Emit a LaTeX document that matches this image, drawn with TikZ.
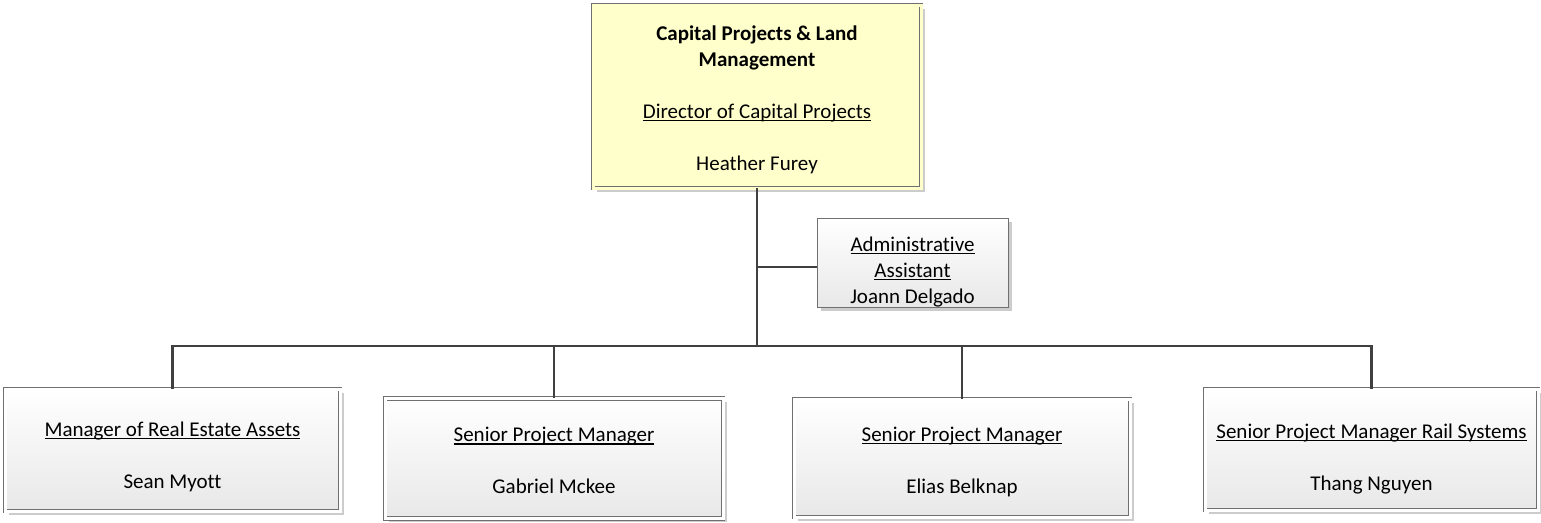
\documentclass[tikz,border=0pt]{standalone}
\usepackage{fontspec}
\setmainfont{Carlito}[Ligatures=CommonOff]
\usetikzlibrary{shadows}
\definecolor{lineclr}{HTML}{404040}
\definecolor{boxborder}{HTML}{707070}
\definecolor{topfill}{HTML}{FFFFCC}
\newcommand\myul[1]{\leavevmode\setbox0\hbox{#1}\rlap{\rule[-2.6pt]{\wd0}{1.1pt}}\box0}
\newcommand\tp[1]{\rule{0pt}{#1pt}}
\tikzset{
  conn/.style={draw=lineclr, line width=2.6pt},
  shad/.style={drop shadow={shadow xshift=3.5pt, shadow yshift=-3.5pt, fill=black, opacity=0.2}},
  dblbox/.style={shad, draw=boxborder, line width=0.8pt, double distance=3pt, align=center, inner sep=0pt,
     font=\fontsize{21}{26}\selectfont},
  topbox/.style={dblbox, fill=topfill, double=topfill},
  empbox/.style={dblbox, top color=white, bottom color=black!9, double=white},
  adminbox/.style={shad, draw=boxborder, line width=0.8pt, top color=white, bottom color=black!9,
     align=center, inner sep=0pt, font=\fontsize{21}{26}\selectfont},
}
\begin{document}
\begin{tikzpicture}[x=1pt, y=-1pt]
\useasboundingbox (0,0) rectangle (1541,522);
\node[topbox, minimum width=328pt, minimum height=183pt] (top) at (757,96.5) {\tp{21}\textbf{Capital Projects \& Land}\\\textbf{Management}\\[26pt]\myul{Director of Capital Projects}\\[26pt]Heather Furey};
\node[adminbox, minimum width=191pt, minimum height=89pt] (admin) at (912.5,262.5) {\tp{33}\myul{Administrative}\\\myul{Assistant}\\Joann Delgado};
\node[empbox, minimum width=335pt, minimum height=122pt] (b1) at (172.5,450) {\tp{29}\myul{Manager of Real Estate Assets}\\[26pt]Sean Myott};
\node[empbox, minimum width=338pt, minimum height=120pt] (b2) at (554,458.5) {\tp{19}\myul{Senior Project Manager}\\[26pt]Gabriel Mckee};
\node[empbox, minimum width=336pt, minimum height=118pt] (b3) at (962,458) {\tp{22}\myul{Senior Project Manager}\\[26pt]Elias Belknap};
\node[empbox, minimum width=333pt, minimum height=121pt] (b4) at (1371.5,449.5) {\tp{33}\myul{Senior Project Manager Rail Systems}\\[26pt]Thang Nguyen};
\coordinate (j) at (757,346);
\coordinate (a) at (757,267);
\draw[conn] (top.south) -- (j);
\draw[conn] (a) -- (a -| admin.west);
\draw[conn] (b1.north) -- (b1.north |- j) -- (b4.north |- j) -- (b4.north);
\draw[conn] (b2.north) -- (b2.north |- j);
\draw[conn] (b3.north) -- (b3.north |- j);
\end{tikzpicture}
\end{document}
